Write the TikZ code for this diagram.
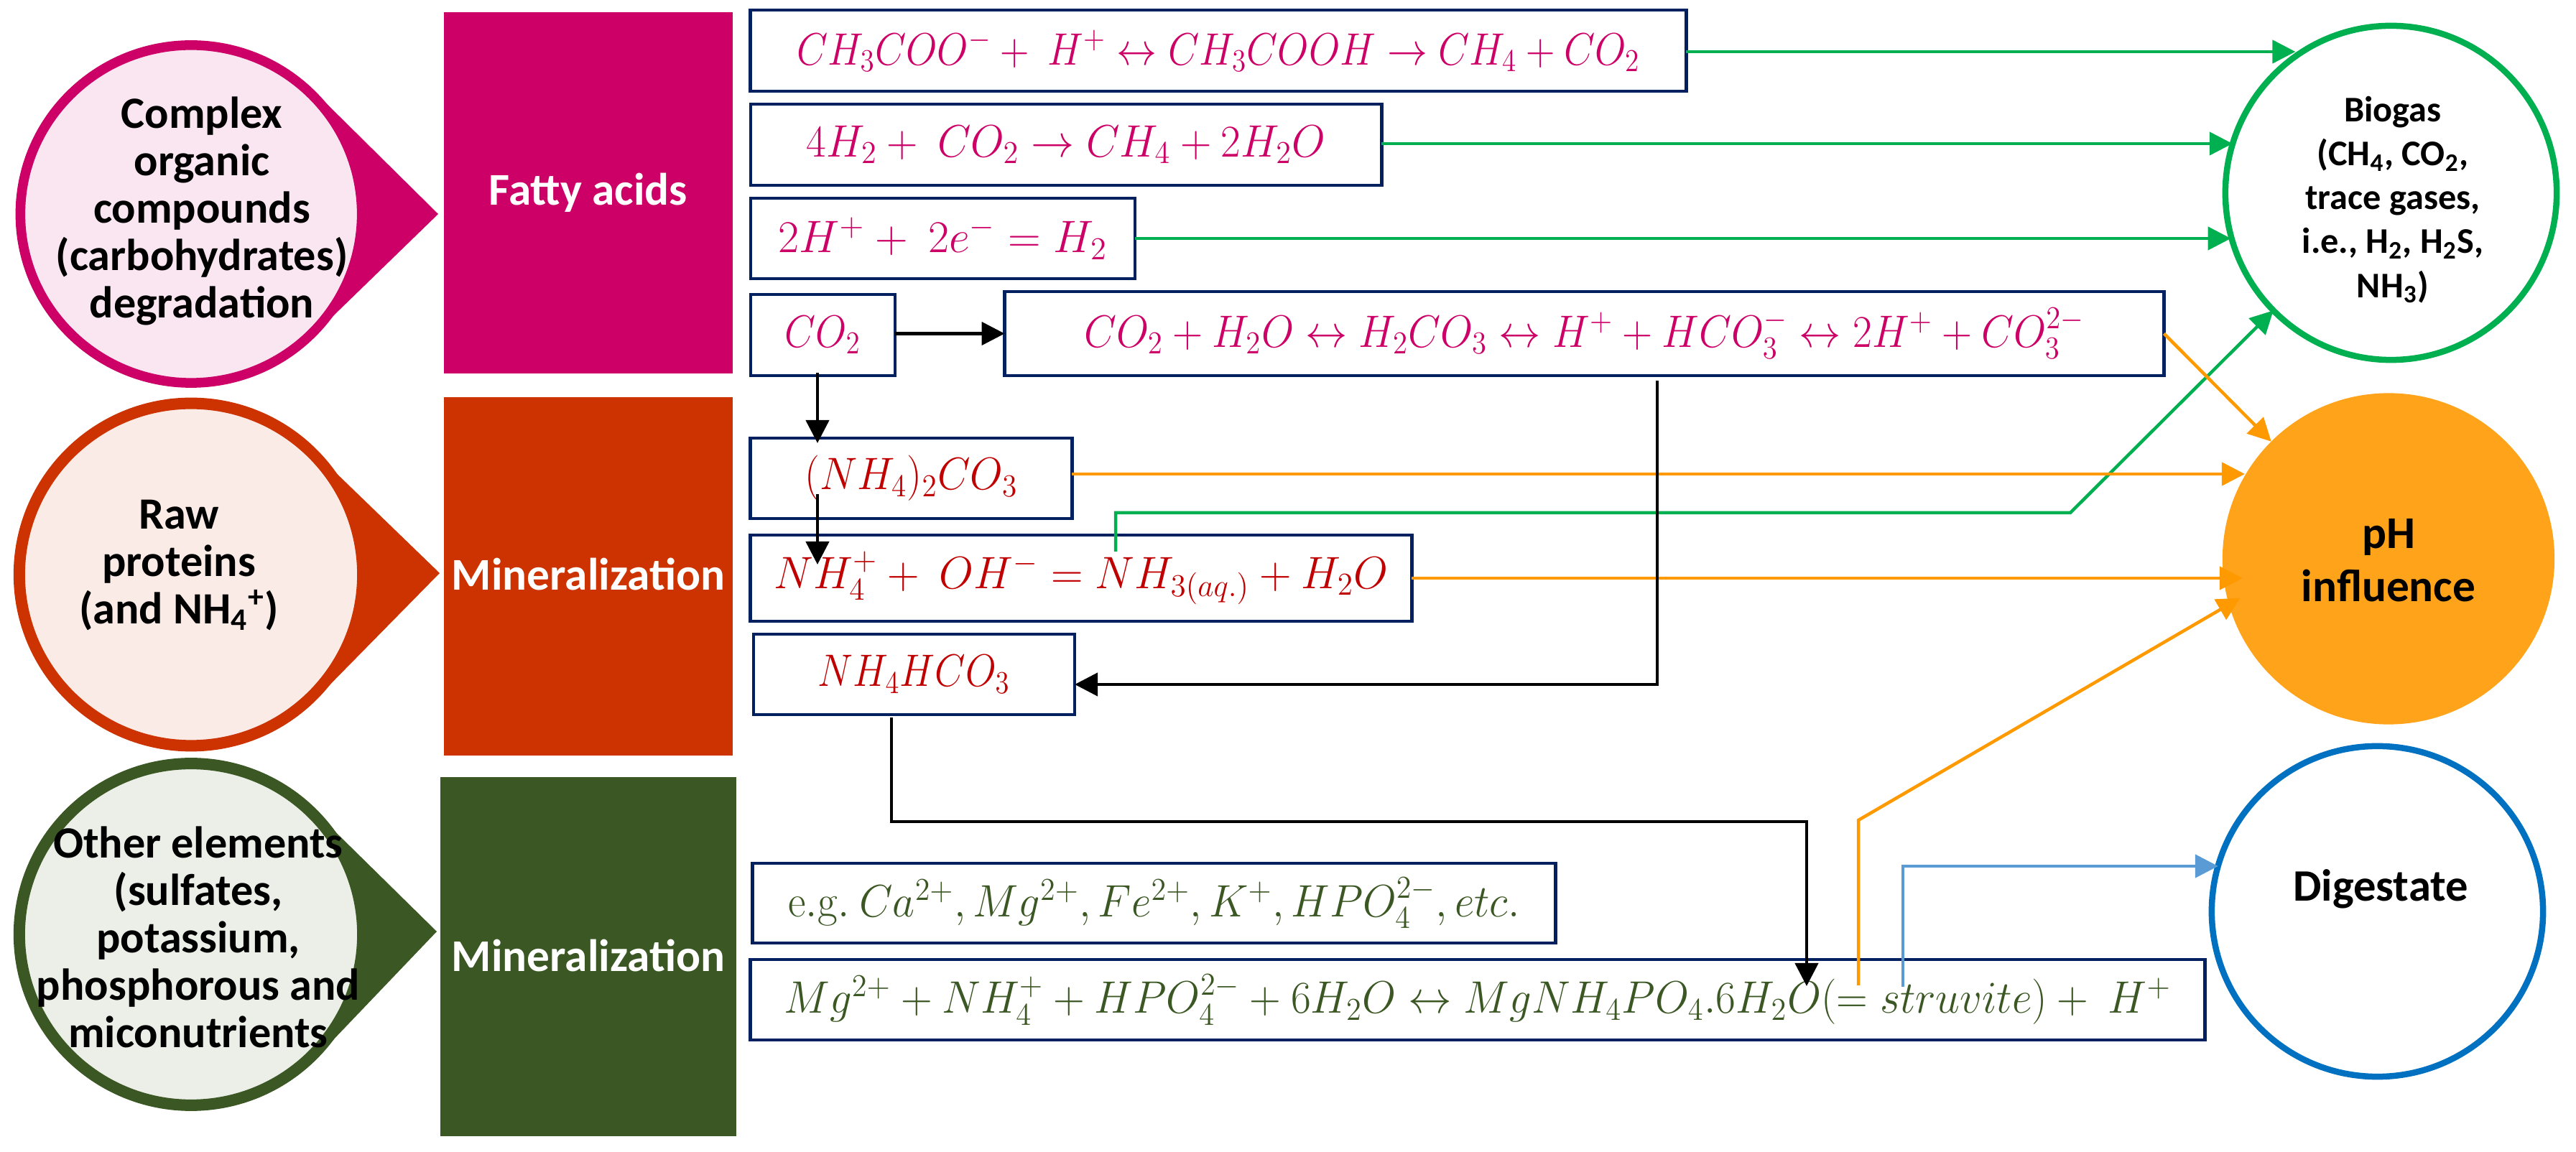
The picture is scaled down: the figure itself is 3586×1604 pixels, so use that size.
\documentclass[tikz,border=0pt]{standalone}
\usepackage{fix-cm}
\usepackage{amsmath}
\usepackage{graphicx}
\usepackage[no-math]{fontspec}
\setmainfont{Carlito}
\usetikzlibrary{shapes.geometric,arrows.meta}
\definecolor{fatty}{HTML}{CC0066}
\definecolor{fattypale}{HTML}{F9E6F0}
\definecolor{mineral}{HTML}{CC3300}
\definecolor{mineralpale}{HTML}{FAEBE6}
\definecolor{other}{HTML}{3B5723}
\definecolor{otherpale}{HTML}{EBEFE8}
\definecolor{eqred}{HTML}{C00000}
\definecolor{navy}{HTML}{002060}
\definecolor{gasgreen}{HTML}{00B050}
\definecolor{phorange}{HTML}{FF9900}
\definecolor{phfill}{HTML}{FFA31A}
\definecolor{outblue}{HTML}{0070C0}
\definecolor{lineblue}{HTML}{5B9BD5}
\newcommand{\eqsize}{\fontsize{18}{22}\selectfont}
\newcommand{\eqn}[2]{\scalebox{#1}[1]{$#2$}}

\begin{document}
\begin{tikzpicture}[x=0.01cm,y=-0.01cm]
 \tikzset{arrow/.style={line width=0.045cm,-{Triangle[length=0.32cm,width=0.32cm]}}}
 \tikzset{block/.style={inner sep=0,outer sep=0,text=white,font=\fontsize{18}{20}\selectfont\bfseries}}
 \tikzset{eqbox/.style={draw=navy,line width=0.045cm,inner sep=0,outer sep=0,font=\eqsize}}
 \tikzset{tear/.style={ellipse,inner sep=0,outer sep=0}}
 \tikzset{teartext/.style={align=center,inner sep=0,font=\fontsize{17.7}{18.8}\selectfont\bfseries}}
 \tikzset{product/.style={ellipse,inner sep=0,outer sep=0}}
 \tikzset{producttext/.style={align=center,inner sep=0,font=\fontsize{17.8}{21}\selectfont\bfseries}}
 \useasboundingbox (0,0) rectangle (3586,1604);

 % inputs
 \fill[fatty] (428,118) -- (610,298) -- (438,465) -- cycle;
 \fill[mineral] (428,620) -- (612,798) -- (438,975) -- cycle;
 \fill[other] (428,1120) -- (608,1297) -- (438,1475) -- cycle;
 \node[tear,draw=fatty,fill=fattypale,line width=0.135cm,minimum width=4.75cm,minimum height=4.7cm] (tearA) at (266,298) {};
 \node[tear,draw=mineral,fill=mineralpale,line width=0.16cm,minimum width=4.78cm,minimum height=4.765cm] (tearB) at (266,800) {};
 \node[tear,draw=other,fill=otherpale,line width=0.16cm,minimum width=4.78cm,minimum height=4.755cm] (tearC) at (266,1301) {};
 \node[teartext] (labelA) at (281,294) {Complex\\organic\\compounds\\(carbohydrates)\\degradation};
 \node[teartext] (labelB) at (249,787) {Raw\\proteins\\(and NH\textsubscript{4}\textsuperscript{+})};
 \node[teartext] (labelC) at (276,1305) {Other elements\\(sulfates,\\potassium,\\phosphorous and\\miconutrients};

 \node[block,fill=fatty,minimum width=4.025cm,minimum height=5.02cm] (fattyacids) at (819,268.5) {Fatty acids};
 \node[block,fill=mineral,minimum width=4.025cm,minimum height=4.99cm] (mineralA) at (819,802.5) {\raisebox{0.06cm}{Mineralization}};
 \node[block,fill=other,minimum width=4.115cm,minimum height=5cm] (mineralB) at (819,1332) {\raisebox{0.04cm}{Mineralization}};

 % equations
 \node[eqbox,text=fatty,minimum width=13.02cm,minimum height=1.13cm] (acetate) at (1696,70.5) {\eqn{0.884}{CH_3COO^- +\ H^+ \leftrightarrow CH_3COOH \rightarrow CH_4 + CO_2}};
 \node[eqbox,text=fatty,minimum width=8.78cm,minimum height=1.13cm] (methane) at (1484,201.5) {\eqn{0.95}{4H_2 +\ CO_2 \rightarrow CH_4 + 2H_2O}};
 \node[eqbox,text=fatty,minimum width=5.35cm,minimum height=1.12cm] (hydrogen) at (1312.5,332) {\eqn{1}{2H^+ +\ 2e^- = H_2}};
 \node[eqbox,text=fatty,minimum width=2.01cm,minimum height=1.125cm] (carbon) at (1145.5,466.5) {\eqn{0.88}{CO_2}};
 \node[eqbox,text=fatty,minimum width=16.13cm,minimum height=1.17cm] (carbonate) at (2205.5,464.5) {\eqn{0.92}{CO_2 + H_2O \leftrightarrow H_2CO_3 \leftrightarrow H^+ + HCO_3^- \leftrightarrow 2H^+ + CO_3^{2-}}};
 \node[eqbox,text=eqred,minimum width=4.475cm,minimum height=1.115cm] (ammonium) at (1268.5,666) {\eqn{0.93}{(NH_4)_2CO_3}};
 \node[eqbox,text=eqred,minimum width=9.2cm,minimum height=1.2cm] (ammonia) at (1505,805) {\eqn{0.976}{NH_4^+ +\ OH^- = NH_{3(aq.)} + H_2O}};
 \node[eqbox,text=eqred,minimum width=4.47cm,minimum height=1.115cm] (bicarbonate) at (1272.5,939) {\eqn{0.87}{NH_4HCO_3}};
 \node[eqbox,text=other,minimum width=11.17cm,minimum height=1.11cm] (elements) at (1606.5,1257.5) {\eqn{0.95}{\mathrm{e.g.}\ Ca^{2+},Mg^{2+},Fe^{2+},K^+,HPO_4^{2-},etc.}};
 \node[eqbox,text=other,minimum width=20.235cm,minimum height=1.12cm] (struvite) at (2057,1392) {\eqn{0.958}{Mg^{2+} + NH_4^+ + HPO_4^{2-} + 6H_2O \leftrightarrow MgNH_4PO_4.6H_2O(=struvite) +\ H^+}};

 % outputs
 \node[product,draw=gasgreen,line width=0.085cm,minimum width=4.61cm,minimum height=4.65cm] (biogas) at (3328.5,268.5) {};
 \node[producttext,font=\fontsize{14.3}{17.4}\selectfont\bfseries] (biogastext) at (3331,278) {Biogas\\(CH\textsubscript{4}, CO\textsubscript{2},\\trace gases,\\i.e., H\textsubscript{2}, H\textsubscript{2}S,\\NH\textsubscript{3})};
 \node[product,fill=phfill,minimum width=4.62cm,minimum height=4.61cm] (ph) at (3325,778) {};
 \node[producttext,font=\fontsize{18}{21}\selectfont\bfseries] (phtext) at (3325,780) {pH\\influence};
 \node[product,draw=outblue,line width=0.085cm,minimum width=4.61cm,minimum height=4.6cm] (digestate) at (3309.5,1269) {};
 \node[producttext] (digestatetext) at (3314,1238) {Digestate};

 % bends and free ends
 \coordinate (gasstart) at (1553,768);
 \coordinate (gasup) at (1553,714);
 \coordinate (gasbend) at (2882,714);
 \coordinate (phstart) at (2587,1372);
 \coordinate (phbend) at (2587,1142);
 \coordinate (bluestart) at (2649,1374);
 \coordinate (bluebend) at (2649,1206);
 \coordinate (carbondown) at (1138,519);
 \coordinate (carbontip) at (1138,617);
 \coordinate (ammstart) at (1138,688);
 \coordinate (ammtip) at (1138,786);
 \coordinate (carbstart) at (2307,530);
 \coordinate (bicstart) at (1241,999);
 \coordinate (bicdown) at (1241,1144);
 \coordinate (bicright) at (2515,1144);
 \coordinate (strutip) at (2515,1373);

 \draw[arrow,gasgreen] (acetate.east |- 0,72) -- (biogas.125 |- 0,72);
 \draw[arrow,gasgreen] (methane.east |- 0,200) -- (biogas.163 |- 0,200);
 \draw[arrow,gasgreen] (hydrogen.east) -- (hydrogen.east -| biogas.195);
 \draw[arrow,gasgreen] (gasstart) -- (gasup) -- (gasbend) -- (biogas.225);

 \draw[arrow,phorange] (carbonate.east) -- (ph.135);
 \draw[arrow,phorange] (ammonium.east |- 0,660) -- (ph.150 |- 0,660);
 \draw[arrow,phorange,shorten >=-0.28cm] (ammonia.east) -- (ammonia.east -| ph.west);
 \draw[arrow,phorange,shorten >=-0.18cm] (phstart) -- (phbend) -- (ph.196);
 \draw[arrow,lineblue] (bluestart) -- (bluebend) -- (bluebend -| digestate.164);

 \draw[arrow] (carbon.east |- carbonate.west) -- (carbonate.west);
 \draw[arrow] (carbondown) -- (carbontip);
 \draw[arrow] (ammstart) -- (ammtip);
 \draw[arrow] (carbstart) -- (carbstart |- 0,953) -- (bicarbonate.east |- 0,953);
 \draw[arrow] (bicstart) -- (bicdown) -- (bicright) -- (strutip);
\end{tikzpicture}
\end{document}
